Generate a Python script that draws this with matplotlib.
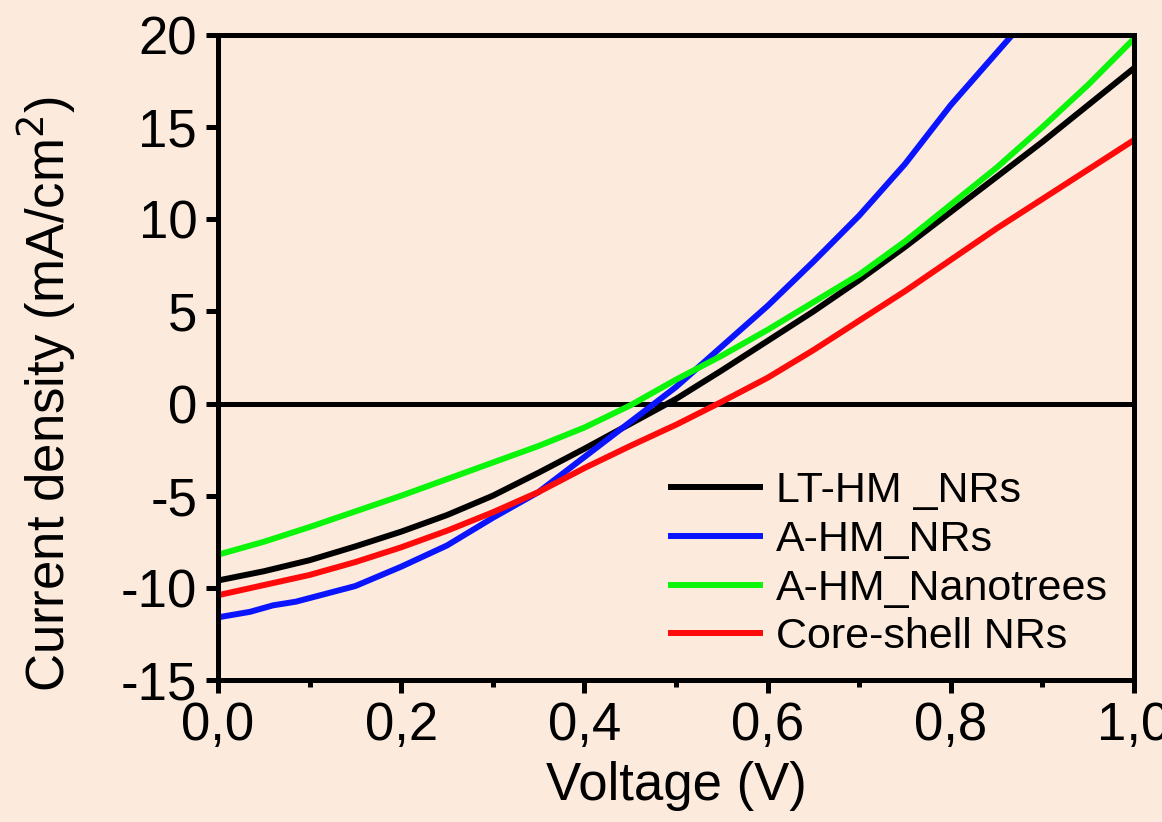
"""J-V curves of the four photoanodes."""

import matplotlib

matplotlib.use("Agg")
import matplotlib.pyplot as plt
from matplotlib.ticker import FuncFormatter, MultipleLocator

BG = "#FCEADC"

voltage = [0.0, 0.05, 0.1, 0.15, 0.2, 0.25, 0.3, 0.35, 0.4, 0.45, 0.5,
           0.55, 0.6, 0.65, 0.7, 0.75, 0.8, 0.85, 0.9, 0.95, 1.0]

lt_hm_nrs = [-9.6, -9.1, -8.5, -7.75, -6.95, -6.05, -5.0, -3.75, -2.45, -1.1, 0.25,
             1.8, 3.4, 5.0, 6.7, 8.5, 10.4, 12.3, 14.2, 16.2, 18.2]
a_hm_nrs_v = [0.0, 0.035, 0.06, 0.085, 0.15, 0.2, 0.25, 0.3, 0.35, 0.4, 0.45, 0.5,
              0.55, 0.6, 0.65, 0.7, 0.75, 0.8, 0.867]
a_hm_nrs = [-11.6, -11.3, -10.95, -10.75, -9.9, -8.85, -7.7, -6.2, -4.8, -2.9, -1.0, 0.9,
            3.1, 5.3, 7.7, 10.2, 13.0, 16.2, 20.0]
a_hm_nanotrees = [-8.2, -7.5, -6.7, -5.85, -5.0, -4.1, -3.2, -2.3, -1.3, -0.1, 1.3,
                  2.6, 4.0, 5.5, 7.0, 8.8, 10.8, 12.8, 15.0, 17.3, 19.8]
core_shell_nrs = [-10.4, -9.85, -9.3, -8.6, -7.8, -6.9, -5.9, -4.8, -3.5, -2.3, -1.15,
                  0.1, 1.4, 2.9, 4.5, 6.1, 7.8, 9.5, 11.1, 12.7, 14.3]

plt.rcParams["font.family"] = ["Liberation Sans", "DejaVu Sans"]

fig = plt.figure(figsize=(11.62, 8.22), dpi=100, facecolor=BG)
ax = fig.add_axes([218 / 1162, 1 - 680 / 822, 916 / 1162, 645 / 822])
ax.set_facecolor(BG)

lw = 4.3
ax.axhline(0, color="black", lw=3.6, zorder=1)
ax.plot(voltage, lt_hm_nrs, color="black", lw=lw, label="LT-HM _NRs")
ax.plot(a_hm_nrs_v, a_hm_nrs, color="#0A14FF", lw=lw, label="A-HM_NRs")
ax.plot(voltage, a_hm_nanotrees, color="#0AF50A", lw=lw, label="A-HM_Nanotrees")
ax.plot(voltage, core_shell_nrs, color="#FF0A0A", lw=lw, label="Core-shell NRs")

ax.set_xlim(0, 1.0)
ax.set_ylim(-15, 20)
ax.xaxis.set_major_locator(MultipleLocator(0.2))
ax.xaxis.set_minor_locator(MultipleLocator(0.1))
ax.yaxis.set_major_locator(MultipleLocator(5))
ax.xaxis.set_major_formatter(FuncFormatter(lambda v, _: f"{v:.1f}".replace(".", ",")))
ax.yaxis.set_major_formatter(FuncFormatter(lambda v, _: f"{v:.0f}"))

for side in ax.spines.values():
    side.set_linewidth(3.6)
ax.tick_params(which="major", direction="out", length=9, width=3.6,
               labelsize=38, pad=6, top=False, right=False)
ax.tick_params(which="minor", direction="out", length=5, width=3.6,
               top=False, right=False)

ax.set_xlabel("Voltage (V)", fontsize=38, labelpad=7)
ax.set_ylabel("Current density (mA/cm$^2$)", fontsize=38)
ax.yaxis.set_label_coords(-0.153, 0.443)

ax.legend(loc="upper left", bbox_to_anchor=(0.476, 0.35), frameon=False,
          fontsize=31, handlelength=2.05, handletextpad=0.38, labelspacing=0.2,
          borderaxespad=0)

fig.savefig("out.png", dpi=100, facecolor=BG)
